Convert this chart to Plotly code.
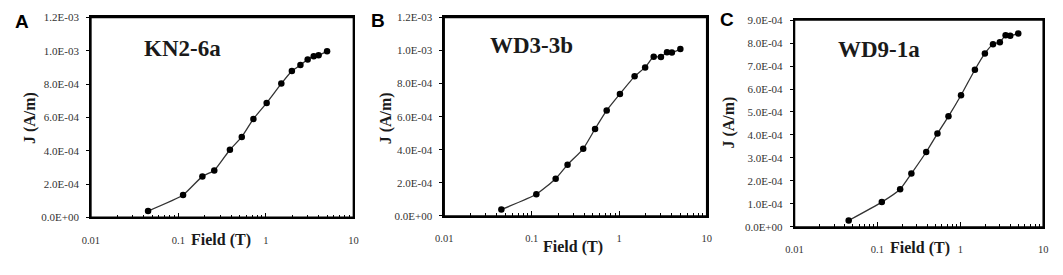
import plotly.graph_objects as go

W, H = 1063, 275

fields = [0.045, 0.113, 0.188, 0.257, 0.388, 0.53, 0.72, 1.02, 1.5, 1.98, 2.48, 3.0, 3.52, 4.0, 5.0]
j_kn2_6a = [3.8e-5, 1.34e-4, 2.46e-4, 2.82e-4, 4.06e-4, 4.83e-4, 5.91e-4, 6.87e-4, 8.03e-4, 8.79e-4, 9.14e-4, 9.48e-4, 9.67e-4, 9.73e-4, 9.98e-4]
j_wd3_3b = [3.9e-5, 1.31e-4, 2.25e-4, 3.10e-4, 4.06e-4, 5.26e-4, 6.38e-4, 7.38e-4, 8.44e-4, 8.98e-4, 9.63e-4, 9.61e-4, 9.90e-4, 9.88e-4, 1.009e-3]
j_wd9_1a = [2.8e-5, 1.08e-4, 1.64e-4, 2.32e-4, 3.26e-4, 4.06e-4, 4.81e-4, 5.73e-4, 6.84e-4, 7.55e-4, 7.95e-4, 8.04e-4, 8.34e-4, 8.32e-4, 8.42e-4]

panel_letters = ["A", "B", "C"]
sample_names = ["KN2-6a", "WD3-3b", "WD9-1a"]
x_tickvals = [0.01, 0.1, 1, 10]
x_ticktext = ["0.01", "0.1", "1", "10"]
y_tickvals_ab = [0, 2e-4, 4e-4, 6e-4, 8e-4, 1.0e-3, 1.2e-3]
y_ticktext_ab = ["0.0E+00", "2.0E-04", "4.0E-04", "6.0E-04", "8.0E-04", "1.0E-03", "1.2E-03"]
y_tickvals_c = [0, 1e-4, 2e-4, 3e-4, 4e-4, 5e-4, 6e-4, 7e-4, 8e-4, 9e-4]
y_ticktext_c = ["0.0E+00", "1.0E-04", "2.0E-04", "3.0E-04", "4.0E-04", "5.0E-04", "6.0E-04", "7.0E-04", "8.0E-04", "9.0E-04"]

# plot boxes in pixels: (left, right, top, bottom)
boxes = [(83, 349, 12, 221), (441, 707, 12, 219.5), (796, 1048, 14.7, 231)]
series = [j_kn2_6a, j_wd3_3b, j_wd9_1a]
yranges = [[0, 1.2e-3], [0, 1.2e-3], [0, 9e-4]]
yticks = [(y_tickvals_ab, y_ticktext_ab), (y_tickvals_ab, y_ticktext_ab), (y_tickvals_c, y_ticktext_c)]

serif = "Liberation Serif"
fig = go.Figure()
layout = dict(width=W, height=H, margin=dict(l=0, r=0, t=0, b=0),
              paper_bgcolor="white", plot_bgcolor="white", showlegend=False)

# annotation positions in pixels
letter_pos = [(13, 16), (374, 15), (728, 14)]
name_pos = [(176, 44), (529, 41), (882, 46)]
xtitle_pos = [(215, 245), (572, 252), (923, 253)]
ytitle_pos = [(21.5, 117), (381.5, 117), (729.5, 122)]

annotations = []
shapes = []
for i in range(3):
    sfx = "" if i == 0 else str(i + 1)
    l, r, t, b = boxes[i]
    fig.add_trace(go.Scatter(
        x=fields, y=series[i], mode="lines+markers",
        line=dict(color="#333333", width=1.3, shape="spline", smoothing=0.5),
        marker=dict(color="black", size=6.5),
        xaxis="x" + sfx, yaxis="y" + sfx))
    layout["xaxis" + sfx] = dict(
        type="log", range=[-2, 1], domain=[l / W, r / W], anchor="y" + sfx,
        tickmode="array", tickvals=x_tickvals, ticktext=x_ticktext,
        ticks="inside", ticklen=5, tickcolor="black", tickwidth=1,
        minor=dict(ticks="inside", ticklen=3, tickcolor="black", tickwidth=1, dtick="D1"),
        showline=True, linecolor="black", linewidth=1.5, mirror=True,
        showgrid=False, zeroline=False, ticklabelstandoff=12,
        tickfont=dict(family=serif, size=10.5, color="#333333"))
    tv, tt = yticks[i]
    layout["yaxis" + sfx] = dict(
        range=yranges[i], domain=[1 - b / H, 1 - t / H], anchor="x" + sfx,
        tickmode="array", tickvals=tv, ticktext=tt,
        ticks="outside", ticklen=3, tickcolor="black", tickwidth=1,
        showline=True, linecolor="black", linewidth=1.5, mirror=True,
        showgrid=False, zeroline=False, ticklabelstandoff=5,
        tickfont=dict(family=serif, size=11, color="#333333"))
    # plot frame
    shapes.append(dict(type="rect", xref="x%s domain" % sfx, yref="y%s domain" % sfx,
                       x0=0, x1=1, y0=0, y1=1, line=dict(color="black", width=1.5),
                       fillcolor="rgba(0,0,0,0)", layer="above"))

    px, py = letter_pos[i]
    annotations.append(dict(text="<b>%s</b>" % panel_letters[i], x=px / W, y=1 - py / H,
                            xref="paper", yref="paper", showarrow=False,
                            xanchor="center", yanchor="middle",
                            font=dict(family="Liberation Sans", size=19, color="black")))
    px, py = name_pos[i]
    annotations.append(dict(text="<b>%s</b>" % sample_names[i], x=px / W, y=1 - py / H,
                            xref="paper", yref="paper", showarrow=False,
                            xanchor="center", yanchor="middle",
                            font=dict(family=serif, size=23, color="#1a1a1a")))
    px, py = xtitle_pos[i]
    annotations.append(dict(text="<b>Field (T)</b>", x=px / W, y=1 - py / H,
                            xref="paper", yref="paper", showarrow=False,
                            xanchor="center", yanchor="middle",
                            font=dict(family=serif, size=16, color="#1a1a1a")))
    px, py = ytitle_pos[i]
    annotations.append(dict(text="<b>J (A/m)</b>", x=px / W, y=1 - py / H,
                            xref="paper", yref="paper", showarrow=False, textangle=-90,
                            xanchor="center", yanchor="middle",
                            font=dict(family=serif, size=16, color="#1a1a1a")))

layout["annotations"] = annotations
layout["shapes"] = shapes
fig.update_layout(**layout)
fig.write_html("out.html", config={"displayModeBar": False},
               post_script="document.body.style.margin='0';document.body.style.overflow='hidden';")
